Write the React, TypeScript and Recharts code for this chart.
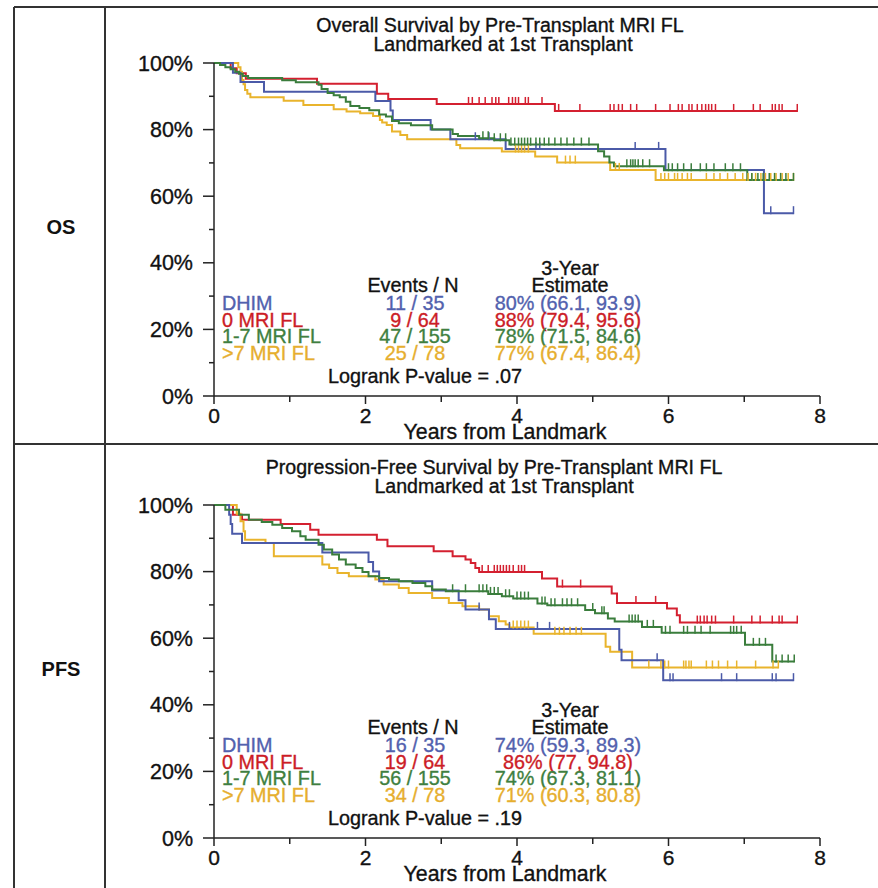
import React from 'react';
import { LineChart, Line, XAxis, YAxis } from 'recharts';

const FONT = "'Liberation Sans', Arial, Helvetica, sans-serif";
const TEXT_STROKE = 0.35;

// ---------- labels / colours ----------
const groupLabels = ['DHIM', '0 MRI FL', '1-7 MRI FL', '>7 MRI FL'];
const lineColors = ['#4b5aa8', '#d42030', '#3a7d3c', '#e9b42c'];
const textColors = ['#5261ae', '#cc1c26', '#3f7f40', '#e6ae2e'];

const xTicks = [0, 1, 2, 3, 4, 5, 6, 7, 8];
const yTicks = [0, 10, 20, 30, 40, 50, 60, 70, 80, 90, 100];

const osTitles = ['Overall Survival by Pre-Transplant MRI FL', 'Landmarked at 1st Transplant'];
const osEventsN = ['11 / 35', '9 / 64', '47 / 155', '25 / 78'];
const osEstimates = ['80% (66.1, 93.9)', '88% (79.4, 95.6)', '78% (71.5, 84.6)', '77% (67.4, 86.4)'];
const osPValue = 'Logrank P-value = .07';

const pfsTitles = ['Progression-Free Survival by Pre-Transplant MRI FL', 'Landmarked at 1st Transplant'];
const pfsEventsN = ['16 / 35', '19 / 64', '56 / 155', '34 / 78'];
const pfsEstimates = ['74% (59.3, 89.3)', '86% (77, 94.8)', '74% (67.3, 81.1)', '71% (60.3, 80.8)'];
const pfsPValue = 'Logrank P-value = .19';

// ---------- OS curves: [years, survival %] at each step, censor times ----------
const osDhimEvents: [number, number][] = [[0, 100], [0.25, 97.1], [0.35, 94.3], [0.66, 91.4], [2.13, 88.6], [2.33, 85.7], [2.36, 82.9], [2.86, 80.0], [3.12, 77.1], [3.85, 74.2], [5.96, 67.9], [7.26, 54.9]];
const osDhimCensor = [3.45, 3.63, 4.25, 4.3, 5.56, 5.87, 7.35, 7.65];

const osZeroEvents: [number, number][] = [[0, 100], [0.22, 98.4], [0.3, 96.9], [0.42, 95.3], [1.36, 93.8], [2.15, 90.8], [2.3, 89.2], [2.94, 87.7], [4.5, 85.6]];
const osZeroCensor = [3.36, 3.41, 3.5, 3.58, 3.67, 3.72, 3.76, 3.89, 3.94, 3.98, 4.02, 4.11, 4.15, 4.33, 4.55, 4.83, 5.23, 5.28, 5.34, 5.39, 5.5, 5.58, 5.83, 6.02, 6.13, 6.18, 6.27, 6.31, 6.38, 6.44, 6.49, 6.53, 6.57, 6.62, 6.86, 7.12, 7.21, 7.37, 7.41, 7.46, 7.5, 7.7];

const osMidEvents: [number, number][] = [[0, 100], [0.08, 99.4], [0.15, 98.7], [0.22, 98.1], [0.28, 97.4], [0.33, 96.8], [0.38, 96.1], [0.45, 95.5], [0.9, 94.8], [1.08, 94.2], [1.38, 93.5], [1.42, 92.2], [1.5, 91.0], [1.58, 90.3], [1.66, 89.7], [1.74, 88.4], [1.8, 87.1], [1.92, 86.5], [2.05, 85.8], [2.18, 84.5], [2.27, 83.9], [2.35, 82.6], [2.44, 81.9], [2.6, 81.3], [2.88, 80.0], [3.15, 78.7], [3.22, 78.1], [3.5, 77.4], [3.7, 76.8], [3.9, 75.5], [5.07, 73.5], [5.15, 71.9], [5.22, 70.1], [5.28, 69.0], [5.94, 67.8], [7.04, 64.9]];
const osMidCensor = [3.55, 3.62, 3.7, 3.78, 3.85, 3.92, 3.97, 4.02, 4.06, 4.1, 4.14, 4.18, 4.25, 4.3, 4.36, 4.42, 4.5, 4.58, 4.66, 4.75, 4.85, 4.95, 5.45, 5.5, 5.53, 5.56, 5.6, 5.66, 5.75, 6.0, 6.05, 6.12, 6.2, 6.3, 6.42, 6.5, 6.6, 6.75, 6.85, 6.95, 7.1, 7.18, 7.25, 7.33, 7.4, 7.48, 7.55, 7.65];

const osHighEvents: [number, number][] = [[0, 100], [0.32, 98.7], [0.35, 97.4], [0.37, 94.9], [0.39, 93.6], [0.41, 91.9], [0.44, 90.8], [0.48, 89.7], [0.92, 88.7], [1.18, 87.4], [1.58, 86.1], [1.75, 85.4], [1.93, 84.9], [2.1, 84.1], [2.19, 82.9], [2.22, 82.1], [2.28, 81.4], [2.35, 79.4], [2.46, 78.4], [2.55, 77.1], [3.2, 75.4], [3.25, 74.4], [3.8, 73.4], [4.24, 71.9], [4.53, 70.1], [5.23, 67.9], [5.83, 64.9]];
const osHighCensor = [3.98, 4.02, 4.06, 4.1, 4.15, 4.64, 4.7, 4.77, 5.3, 5.35, 5.9, 5.95, 6.0, 6.08, 6.12, 6.18, 6.25, 6.3, 6.5, 6.6, 6.68, 6.78, 6.88, 6.98, 7.05, 7.1, 7.15, 7.22, 7.28, 7.35, 7.42, 7.5, 7.58, 7.65];

// ---------- PFS curves ----------
const pfsDhimEvents: [number, number][] = [[0, 100], [0.2, 97.1], [0.22, 94.3], [0.24, 91.4], [0.37, 88.6], [1.43, 85.7], [2.04, 82.9], [2.1, 80.0], [2.18, 77.1], [2.88, 74.3], [3.23, 71.4], [3.32, 68.6], [3.63, 65.7], [3.72, 62.8], [5.35, 56.5], [5.38, 53.4], [5.93, 47.4]];
const pfsDhimCensor = [3.5, 3.9, 4.27, 4.43, 5.85, 6.02, 6.06, 6.7, 6.9, 7.37, 7.42, 7.65];

const pfsZeroEvents: [number, number][] = [[0, 100], [0.25, 97.1], [0.37, 95.6], [0.88, 94.3], [1.27, 92.6], [1.38, 91.1], [2.15, 89.6], [2.29, 87.6], [2.9, 86.1], [3.15, 84.6], [3.32, 83.6], [3.39, 82.6], [3.45, 81.1], [3.5, 79.9], [4.33, 77.9], [4.53, 75.5], [5.25, 73.4], [5.32, 70.6], [5.98, 68.9], [6.11, 66.9], [6.15, 64.7]];
const pfsZeroCensor = [3.54, 3.62, 3.7, 3.74, 3.78, 3.82, 3.86, 3.9, 3.95, 4.02, 4.06, 4.1, 4.6, 4.84, 5.57, 5.83, 6.38, 6.42, 6.47, 6.51, 6.57, 6.62, 6.86, 7.1, 7.21, 7.37, 7.46, 7.5, 7.7];

const pfsMidEvents: [number, number][] = [[0, 100], [0.15, 98.6], [0.33, 97.1], [0.46, 95.6], [0.63, 94.9], [0.77, 94.1], [0.9, 93.1], [1.03, 92.1], [1.14, 90.6], [1.21, 89.6], [1.38, 88.1], [1.45, 86.6], [1.56, 85.1], [1.65, 83.6], [1.74, 82.1], [1.87, 81.1], [1.96, 79.9], [2.04, 78.6], [2.18, 78.1], [2.31, 77.6], [2.44, 77.1], [2.62, 76.6], [2.79, 75.6], [2.88, 74.6], [3.06, 74.1], [3.62, 73.3], [3.8, 72.6], [3.95, 71.9], [4.27, 70.4], [4.4, 69.9], [4.9, 68.5], [5.03, 67.5], [5.2, 65.9], [5.29, 65.0], [5.65, 63.4], [5.91, 61.6], [7.01, 58.0], [7.37, 53.0]];
const pfsMidCensor = [3.15, 3.32, 3.5, 3.55, 3.6, 3.65, 3.7, 3.75, 3.85, 3.9, 4.0, 4.05, 4.1, 4.15, 4.33, 4.37, 4.45, 4.5, 4.6, 4.66, 4.72, 4.8, 5.0, 5.12, 5.15, 5.48, 5.52, 5.56, 5.6, 5.72, 5.8, 5.96, 6.02, 6.2, 6.25, 6.35, 6.43, 6.55, 6.82, 6.86, 6.9, 6.96, 7.12, 7.2, 7.28, 7.42, 7.5, 7.58, 7.66];

const pfsHighEvents: [number, number][] = [[0, 100], [0.3, 97.4], [0.35, 95.1], [0.39, 92.1], [0.41, 89.6], [0.68, 88.6], [0.79, 84.6], [1.43, 82.1], [1.52, 81.1], [1.63, 79.6], [1.78, 78.6], [2.13, 77.6], [2.24, 76.1], [2.44, 75.1], [2.57, 73.6], [2.88, 72.1], [3.1, 70.6], [3.28, 69.6], [3.5, 68.6], [3.63, 66.6], [3.76, 65.1], [3.85, 64.1], [3.9, 63.2], [4.22, 61.3], [5.17, 57.4], [5.23, 55.9], [5.52, 51.2]];
const pfsHighCensor = [3.95, 4.0, 4.05, 4.1, 4.15, 4.5, 4.56, 4.62, 4.7, 4.78, 4.85, 5.74, 5.9, 5.95, 6.0, 6.2, 6.23, 6.27, 6.3, 6.5, 6.58, 6.66, 6.78, 6.9, 7.15, 7.38, 7.45];

// ---------- helpers ----------
type Pt = { t: number; s: number; c: number };

function buildCurve(events: [number, number][], censors: number[]): Pt[] {
  const pts: Pt[] = events.map(([t, s]) => ({ t, s, c: 0 }));
  censors.forEach((ct) => {
    let s = 100;
    events.forEach(([t, v]) => {
      if (t <= ct) s = v;
    });
    pts.push({ t: ct, s, c: 1 });
  });
  pts.sort((a, b) => a.t - b.t || a.c - b.c);
  return pts;
}

const makeCensorDot = (color: string) => (props: any) => {
  const { cx, cy, payload, index } = props;
  if (!payload || !payload.c || cx == null || cy == null) return <g key={`n${index}`} />;
  return <line key={`c${index}`} x1={cx} x2={cx} y1={cy - 7} y2={cy + 1} stroke={color} strokeWidth={1.5} />;
};

const XTick = (props: any) => {
  const { x, y, payload } = props;
  const v = payload.value;
  const major = v % 2 === 0;
  return (
    <g>
      <line x1={x} x2={x} y1={y} y2={y + (major ? 8 : 6)} stroke="#222" strokeWidth={1.5} />
      {major && (
        <text x={x} y={y + 27} textAnchor="middle" fontSize={21} fontFamily={FONT} fill="#111" stroke="#111" strokeWidth={TEXT_STROKE}>
          {v}
        </text>
      )}
    </g>
  );
};

const YTick = (props: any) => {
  const { x, y, payload } = props;
  const v = payload.value;
  const major = v % 20 === 0;
  return (
    <g>
      <line x1={x - (major ? 11 : 5)} x2={x} y1={y} y2={y} stroke="#222" strokeWidth={1.5} />
      {major && (
        <text x={x - 21} y={y + 7.5} textAnchor="end" fontSize={21.5} fontFamily={FONT} fill="#111" stroke="#111" strokeWidth={TEXT_STROKE}>
          {`${v}%`}
        </text>
      )}
    </g>
  );
};

type Curve = { events: [number, number][]; censor: number[] };

function SurvivalChart({ curves, top, height }: { curves: Curve[]; top: number; height: number }) {
  const order = [1, 3, 0, 2];
  return (
    <div style={{ position: 'absolute', left: 0, top, width: 878, height }}>
      <LineChart width={878} height={height} margin={{ top: 63, right: 58, left: 154, bottom: height - 63 - 333 - 40 }}>
        <XAxis
          type="number"
          dataKey="t"
          domain={[0, 8]}
          ticks={xTicks}
          interval={0}
          height={40}
          tickSize={0}
          tickMargin={0}
          tickLine={false}
          tick={(p: any) => <XTick {...p} />}
          axisLine={{ stroke: '#222', strokeWidth: 1.5 }}
        />
        <YAxis
          type="number"
          domain={[0, 100]}
          ticks={yTicks}
          interval={0}
          width={60}
          tickSize={0}
          tickMargin={0}
          tickLine={false}
          tick={(p: any) => <YTick {...p} />}
          axisLine={{ stroke: '#222', strokeWidth: 1.5 }}
        />
        {order.map((i) => (
          <Line
            key={groupLabels[i]}
            data={buildCurve(curves[i].events, curves[i].censor)}
            dataKey="s"
            type="stepAfter"
            stroke={lineColors[i]}
            strokeWidth={2}
            dot={makeCensorDot(lineColors[i])}
            activeDot={false}
            isAnimationActive={false}
          />
        ))}
      </LineChart>
    </div>
  );
}

function PanelText({ dy, titles, eventsN, estimates, pValue, titleX }: { dy: number; titles: string[]; eventsN: string[]; estimates: string[]; pValue: string; titleX: number[] }) {
  const rowY = [310, 327, 343, 360];
  const fs = 19.8;
  return (
    <g fontFamily={FONT} strokeWidth={TEXT_STROKE}>
      <g fill="#111" stroke="#111">
        <text x={titleX[0]} y={dy + 32} textAnchor="middle" fontSize={19.6}>{titles[0]}</text>
        <text x={titleX[1]} y={dy + 51} textAnchor="middle" fontSize={19.6}>{titles[1]}</text>
        <text x={570} y={dy + 275} textAnchor="middle" fontSize={fs}>3-Year</text>
        <text x={413} y={dy + 292} textAnchor="middle" fontSize={fs}>Events / N</text>
        <text x={570} y={dy + 292} textAnchor="middle" fontSize={fs}>Estimate</text>
        <text x={425} y={dy + 383} textAnchor="middle" fontSize={fs}>{pValue}</text>
        <text x={505} y={dy + 439} textAnchor="middle" fontSize={21.3}>Years from Landmark</text>
      </g>
      {groupLabels.map((g, i) => (
        <g key={g} fill={textColors[i]} stroke={textColors[i]} fontSize={fs}>
          <text x={222} y={dy + rowY[i]}>{g}</text>
          <text x={415} y={dy + rowY[i]} textAnchor="middle">{eventsN[i]}</text>
          <text x={568} y={dy + rowY[i]} textAnchor="middle">{estimates[i]}</text>
        </g>
      ))}
    </g>
  );
}

export default function App() {
  const osCurves: Curve[] = [
    { events: osDhimEvents, censor: osDhimCensor },
    { events: osZeroEvents, censor: osZeroCensor },
    { events: osMidEvents, censor: osMidCensor },
    { events: osHighEvents, censor: osHighCensor },
  ];
  const pfsCurves: Curve[] = [
    { events: pfsDhimEvents, censor: pfsDhimCensor },
    { events: pfsZeroEvents, censor: pfsZeroCensor },
    { events: pfsMidEvents, censor: pfsMidCensor },
    { events: pfsHighEvents, censor: pfsHighCensor },
  ];
  return (
    <div style={{ position: 'absolute', left: 0, top: 0, width: 878, height: 888, background: '#fff', overflow: 'hidden' }}>
      <SurvivalChart curves={osCurves} top={0} height={442} />
      <SurvivalChart curves={pfsCurves} top={442} height={446} />
      <svg width={878} height={888} style={{ position: 'absolute', left: 0, top: 0, pointerEvents: 'none' }}>
        <g stroke="#333" strokeWidth={2}>
          <line x1={14} y1={7} x2={878} y2={7} />
          <line x1={14} y1={7} x2={14} y2={888} />
          <line x1={105} y1={7} x2={105} y2={888} />
          <line x1={14} y1={444} x2={878} y2={444} />
        </g>
        <text x={61} y={234} textAnchor="middle" fontSize={20} fontWeight="bold" fontFamily={FONT} fill="#111">OS</text>
        <text x={61} y={676} textAnchor="middle" fontSize={20} fontWeight="bold" fontFamily={FONT} fill="#111">PFS</text>
        <PanelText dy={0} titles={osTitles} eventsN={osEventsN} estimates={osEstimates} pValue={osPValue} titleX={[500, 503]} />
        <PanelText dy={442} titles={pfsTitles} eventsN={pfsEventsN} estimates={pfsEstimates} pValue={pfsPValue} titleX={[494, 504]} />
      </svg>
    </div>
  );
}
